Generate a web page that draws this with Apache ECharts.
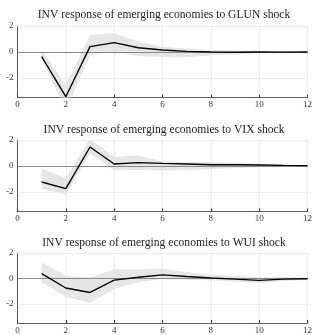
<!DOCTYPE html>
<html>
<head>
  <meta charset="UTF-8" />
  <script src="https://cdn.jsdelivr.net/npm/echarts@6/dist/echarts.min.js"></script>
  <style>
    body { margin: 0; background: #fff; }
    #chart { width: 315px; height: 335px; }
  </style>
</head>
<body>
  <div id="chart"></div>
  <script>
    // horizons 1..12
    const horizon = [1, 2, 3, 4, 5, 6, 7, 8, 9, 10, 11, 12];
    const yTicks = [-2, 0, 2];

    const titles = [
      'INV response of emerging economies to GLUN shock',
      'INV response of emerging economies to VIX shock',
      'INV response of emerging economies to WUI shock'
    ];

    const glunMed  = [-0.36, -3.44, 0.41, 0.72, 0.33, 0.15, 0.05, 0.0, -0.02, 0.0, -0.01, 0.0];
    const glunLow  = [-0.6, -4.5, -0.23, 0.02, -0.3, -0.41, -0.4, -0.25, -0.2, -0.1, -0.07, -0.05];
    const glunHigh = [0.2, -2.55, 1.3, 1.44, 0.8, 0.41, 0.25, 0.15, 0.1, 0.1, 0.05, 0.03];

    const vixMed  = [-1.23, -1.74, 1.46, 0.15, 0.26, 0.2, 0.15, 0.1, 0.1, 0.08, 0.05, 0.03];
    const vixLow  = [-1.74, -2.2, 0.95, -0.33, -0.3, -0.35, -0.3, -0.25, -0.15, -0.1, -0.08, -0.05];
    const vixHigh = [-0.2, -0.92, 2.1, 0.7, 0.82, 0.35, 0.3, 0.3, 0.25, 0.2, 0.1, 0.06];

    const wuiMed  = [0.38, -0.75, -1.1, -0.13, 0.1, 0.28, 0.15, 0.04, -0.05, -0.15, -0.05, -0.02];
    const wuiLow  = [-0.3, -1.46, -1.92, -0.82, -0.3, -0.05, -0.1, -0.15, -0.25, -0.35, -0.2, -0.1];
    const wuiHigh = [1.28, 0.2, 0.08, 0.72, 0.7, 0.77, 0.5, 0.3, 0.2, 0.1, 0.1, 0.05];

    const panels = [
      { med: glunMed, low: glunLow, high: glunHigh },
      { med: vixMed, low: vixLow, high: vixHigh },
      { med: wuiMed, low: wuiLow, high: wuiHigh }
    ];

    const tops = [26, 140, 253];
    const titleY = [4, 119, 232];
    const serif = 'Liberation Serif';
    const pair = arr => arr.map((v, i) => [horizon[i], v]);

    const grid = [], xAxis = [], yAxis = [], title = [], series = [];

    panels.forEach((p, k) => {
      grid.push({ left: 17.5, right: 5, top: tops[k], height: 71.5 });
      title.push({
        text: titles[k], left: 159, top: titleY[k], textAlign: 'center',
        textStyle: { fontFamily: serif, fontWeight: 'normal', fontSize: 11.6, color: '#222' }
      });
      xAxis.push({
        gridIndex: k, type: 'value', min: 0, max: 12, interval: 2,
        axisLine: { onZero: false, lineStyle: { color: '#333', width: 0.8 } },
        axisTick: { inside: true, length: 3, lineStyle: { color: '#333' } },
        axisLabel: { fontFamily: serif, fontSize: 9, color: '#333', margin: 3 },
        splitLine: { show: true, lineStyle: { color: '#ececec', width: 1 } }
      });
      yAxis.push({
        gridIndex: k, type: 'value', min: -3.5, max: 2,
        axisLine: { show: true, lineStyle: { color: '#333', width: 0.8 } },
        axisTick: { show: true, inside: true, length: 3, customValues: yTicks, lineStyle: { color: '#333' } },
        axisLabel: { fontFamily: serif, fontSize: 9, color: '#333', margin: 4, customValues: yTicks },
        splitLine: { show: false }
      });
      // confidence band as one polygon
      series.push({
        type: 'custom', xAxisIndex: k, yAxisIndex: k, clip: true, silent: true,
        data: horizon.map((h, i) => [h, p.low[i], p.high[i]]),
        renderItem: (params, api) => {
          if (params.dataIndex !== 0) return;
          const upper = horizon.map((h, i) => api.coord([h, p.high[i]]));
          const lower = horizon.map((h, i) => api.coord([h, p.low[i]])).reverse();
          return { type: 'polygon', shape: { points: upper.concat(lower) }, style: { fill: '#e6e6e6' } };
        },
        markLine: {
          silent: true, symbol: 'none', label: { show: false },
          data: [
            { yAxis: -2, lineStyle: { color: '#ececec', width: 1, type: 'solid' } },
            { yAxis: 2, lineStyle: { color: '#ececec', width: 1, type: 'solid' } },
            { yAxis: 0, lineStyle: { color: '#8a8a8a', width: 1, type: 'solid' } }
          ]
        }
      });
      series.push({
        type: 'line', xAxisIndex: k, yAxisIndex: k, data: pair(p.med),
        symbol: 'none', lineStyle: { color: '#000', width: 1.4 }, z: 5
      });
    });

    const chart = echarts.init(document.getElementById('chart'));
    chart.setOption({ animation: false, title, grid, xAxis, yAxis, series });
  </script>
</body>
</html>
